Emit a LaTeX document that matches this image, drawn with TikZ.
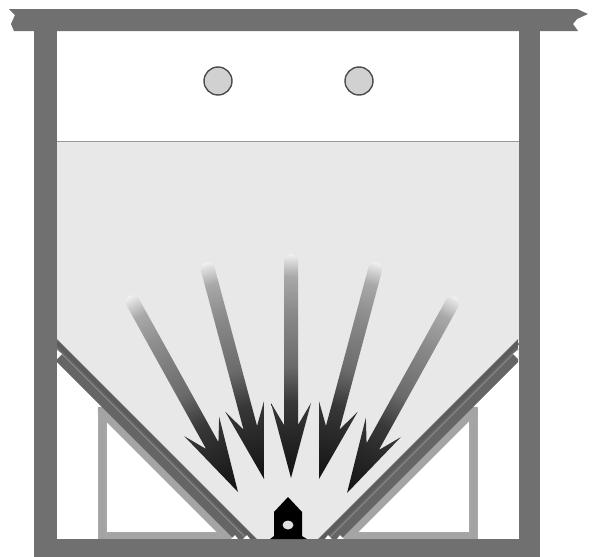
\documentclass[tikz,border=0pt]{standalone}
\definecolor{wallgray}{HTML}{707070}
\definecolor{fillgray}{HTML}{E8E8E8}
\definecolor{bracketgray}{HTML}{A4A4A4}
\pgfdeclareverticalshading{burstfade}{100bp}{
    color(0bp)=(black!93); color(25bp)=(black!93); color(42bp)=(black!78); color(50bp)=(black!58);
    color(62bp)=(black!46); color(70bp)=(black!34); color(74bp)=(black!12); color(75bp)=(black!5); color(100bp)=(black!5)}
\begin{document}
\begin{tikzpicture}[
    x=1pt, y=-1pt,
    wall/.style={fill=wallgray, draw=none},
    plate/.style={fill=wallgray!90!black, draw=none},
    bracket/.style={fill=bracketgray, draw=wallgray!60, line width=0.4pt},
    gap/.style={fill=white, draw=none},
    port/.style={fill=black!18, draw=black!70, line width=1.4pt},
    burst/.style={draw=none, shading=burstfade},
]
    \useasboundingbox (0,0) rectangle (595,557);

    % Fill level
    \fill[fillgray] (57,141) -- (519,141) -- (519,339) -- (318,539) -- (257,539) -- (57,339) -- cycle;
    \draw[black!40, line width=0.9pt] (57,141) -- (519,141);

    % Hopper plates and brackets
    \foreach \flip/\off in {1/0, -1/575} {
        \begin{scope}[xshift=\off pt, xscale=\flip]
            \draw[bracket] (98,539) -- (98,407) -- (106,407) -- (106,539) -- cycle;
            \draw[bracket] (106,532) -- (230,532) -- (230,539) -- (106,539) -- cycle;
            \draw[bracket] (98,407) -- (102,407) -- (234,539) -- (224,539) -- (106,421) -- (98,413) -- cycle;
            \fill[plate] (57,339) -- (257,539) -- (234,539) -- (57,362) -- cycle;
            \draw[black!64, line width=3.5pt] (57,343) -- (253,539);
            \draw[wallgray!80!white, line width=1pt] (57,349) -- (247,539);
            \fill[gap] (57,350) -- (62,354) -- (57,359) -- cycle;
            \fill[gap] (243,539) -- (247,535) -- (250,539) -- cycle;
            \fill[gap] (231,539) -- (235,535) -- (238,539) -- cycle;
        \end{scope}
    }

    % Walls and top beam
    \fill[wall] (34,31) rectangle (57,557);
    \fill[wall] (519,31) rectangle (540,557);
    \fill[wall] (34,539) rectangle (540,557);
    \fill[wall] (9,9) -- (577,9) -- (588,14) -- (577,19) -- (573,24) -- (578,31)
        -- (14,31) -- (11,24) -- (15,15) -- cycle;

    % Ports
    \draw[port] (218,81) circle (14);
    \draw[port] (359,81) circle (14);

    % Arrows
    \foreach \tipx/\tipy/\ang in {238/492/29, 264/479/15, 291/478/0, 319/479/-15, 347/493/-29} {
        \begin{scope}[transform canvas={shift={(\tipx,\tipy)}, rotate=\ang}]
            \path[burst] (0,0) -- (20,-75) -- (7,-53) -- (7,-217)
                arc[start angle=0, end angle=-180, radius=7]
                -- (-7,-53) -- (-20,-75) -- cycle;
        \end{scope}
    }

    % Sensor
    \fill[black] (288,497) -- (302,512) -- (302,536) -- (307,539) -- (270,539) -- (274,536) -- (274,512) -- cycle;
    \fill[black!12] (288,525) ellipse (5.5 and 4.5);
\end{tikzpicture}
\end{document}
